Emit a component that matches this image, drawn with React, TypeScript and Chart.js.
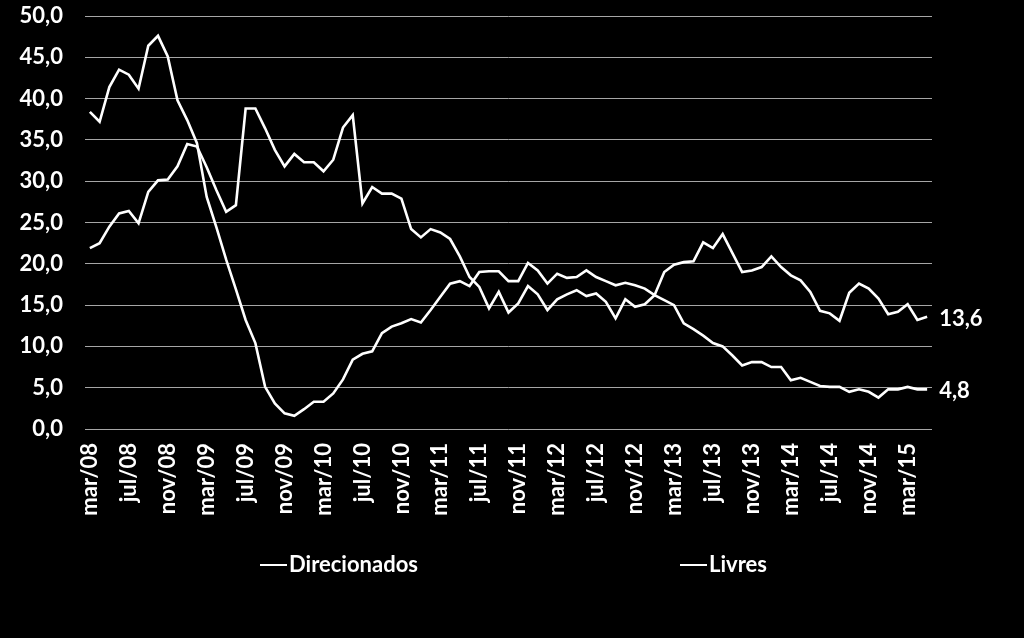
import React, { useEffect, useRef } from "react";
import { Chart, registerables } from "chart.js";

Chart.register(...registerables);

// Monthly categories: mar/08 .. mai/15 (87 months)
const monthNames = ["jan", "fev", "mar", "abr", "mai", "jun", "jul", "ago", "set", "out", "nov", "dez"];
const startYear = 2008;
const startMonth = 2; // mar
const monthCount = 87;
const categories: string[] = Array.from({ length: monthCount }, (_, i) => {
  const m = (startMonth + i) % 12;
  const y = startYear + Math.floor((startMonth + i) / 12);
  return `${monthNames[m]}/${String(y % 100).padStart(2, "0")}`;
});
const tickEvery = 4;

const seriesNames = ["Direcionados", "Livres"];

const direcionados = [
  21.9, 22.5, 24.5, 26.1, 26.4, 24.9, 28.7, 30.1, 30.2, 31.8,
  34.5, 34.2, 31.7, 28.9, 26.3, 27.1, 38.8, 38.8, 36.4, 33.8,
  31.8, 33.3, 32.3, 32.3, 31.2, 32.6, 36.5, 38.0, 27.3, 29.3,
  28.5, 28.5, 27.9, 24.2, 23.2, 24.2, 23.8, 23.0, 20.9, 18.4,
  17.2, 14.6, 16.6, 14.1, 15.2, 17.3, 16.3, 14.4, 15.7, 16.3,
  16.8, 16.1, 16.4, 15.4, 13.4, 15.7, 14.8, 15.1, 16.2, 19.0,
  19.9, 20.2, 20.3, 22.6, 21.9, 23.6, 21.3, 19.0, 19.2, 19.6,
  20.9, 19.6, 18.6, 18.0, 16.6, 14.3, 14.0, 13.1, 16.5, 17.6,
  17.0, 15.8, 13.9, 14.2, 15.1, 13.2, 13.6,
];

const livres = [
  38.4, 37.2, 41.4, 43.5, 42.9, 41.2, 46.4, 47.6, 45.1, 39.8,
  37.4, 34.6, 28.1, 24.4, 20.5, 16.9, 13.2, 10.4, 5.1, 3.1,
  1.9, 1.6, 2.4, 3.3, 3.3, 4.3, 6.0, 8.4, 9.1, 9.4,
  11.6, 12.4, 12.8, 13.3, 12.9, 14.4, 16.0, 17.6, 17.9, 17.3,
  19.0, 19.1, 19.1, 17.9, 17.9, 20.1, 19.2, 17.6, 18.8, 18.3,
  18.4, 19.2, 18.4, 17.9, 17.4, 17.7, 17.4, 17.0, 16.2, 15.6,
  15.0, 12.8, 12.1, 11.3, 10.4, 10.0, 8.9, 7.7, 8.1, 8.1,
  7.5, 7.5, 5.9, 6.2, 5.7, 5.2, 5.1, 5.1, 4.5, 4.8,
  4.5, 3.8, 4.8, 4.8, 5.1, 4.8, 4.8,
];

const yMin = 0;
const yMax = 50;
const yStep = 5;

const FONT_FAMILY = "Lato, 'Open Sans', sans-serif";
const FONT_SIZE = 22;

const fmt = (v: number) => v.toFixed(1).replace(".", ",");

const overlayPlugin = {
  id: "overlay",
  afterDraw(chart: any) {
    const ctx = chart.ctx as CanvasRenderingContext2D;
    ctx.save();
    ctx.font = `bold ${FONT_SIZE}px ${FONT_FAMILY}`;
    ctx.fillStyle = "#ffffff";
    ctx.textBaseline = "middle";
    ctx.textAlign = "left";
    // end-of-line value labels
    chart.data.datasets.forEach((ds: any, di: number) => {
      const meta = chart.getDatasetMeta(di);
      const pts = meta.data;
      const last = pts[pts.length - 1];
      const val = ds.data[ds.data.length - 1];
      ctx.fillText(fmt(val), last.x + 12, last.y + 2);
    });
    // legend
    const cx = chart.width / 2;
    const ly = 565;
    const items = [
      { text: seriesNames[0], x: cx - 252 },
      { text: seriesNames[1], x: cx + 168 },
    ];
    ctx.strokeStyle = "#ffffff";
    ctx.lineWidth = 2;
    items.forEach((it) => {
      ctx.beginPath();
      ctx.moveTo(it.x, ly);
      ctx.lineTo(it.x + 27, ly);
      ctx.stroke();
      ctx.fillText(it.text, it.x + 29, ly);
    });
    ctx.restore();
  },
};

export default function App() {
  const canvasRef = useRef<HTMLCanvasElement | null>(null);

  useEffect(() => {
    document.body.style.margin = "0";
    document.body.style.background = "#000";
    const canvas = canvasRef.current;
    if (!canvas) return;
    const tickFont = { family: FONT_FAMILY, size: FONT_SIZE, weight: "bold" as const };
    const chart = new Chart(canvas, {
      type: "line",
      data: {
        labels: categories,
        datasets: [
          {
            label: seriesNames[0],
            data: direcionados,
            borderColor: "#ffffff",
            backgroundColor: "#ffffff",
            borderWidth: 2.6,
            pointRadius: 0,
            tension: 0,
          },
          {
            label: seriesNames[1],
            data: livres,
            borderColor: "#ffffff",
            backgroundColor: "#ffffff",
            borderWidth: 2.6,
            pointRadius: 0,
            tension: 0,
          },
        ],
      },
      options: {
        animation: false,
        responsive: false,
        maintainAspectRatio: false,
        layout: { padding: { top: 16, right: 92, bottom: 109, left: 0 } },
        plugins: {
          legend: { display: false },
          tooltip: { enabled: false },
        },
        scales: {
          x: {
            offset: true,
            grid: { display: false, drawTicks: false },
            border: { display: false },
            ticks: {
              autoSkip: false,
              maxRotation: 90,
              minRotation: 90,
              padding: 14,
              color: "#ffffff",
              font: tickFont,
              callback: (_v: any, i: number) => (i % tickEvery === 0 ? categories[i] : ""),
            },
            afterFit: (s: any) => {
              s.height = 100;
              s.paddingLeft = 0;
              s.paddingRight = 0;
            },
          },
          y: {
            min: yMin,
            max: yMax,
            ticks: {
              stepSize: yStep,
              padding: 22,
              color: "#ffffff",
              font: tickFont,
              callback: (v: any) => fmt(Number(v)),
            },
            grid: { color: "#a6a6a6", lineWidth: 1, drawTicks: false },
            border: { display: false },
            afterFit: (s: any) => {
              s.width = 85;
              s.paddingTop = 12;
              s.paddingBottom = 12;
            },
          },
        },
      },
      plugins: [overlayPlugin],
    });
    return () => chart.destroy();
  }, []);

  return (
    <div style={{ position: "fixed", left: 0, top: 0, width: 1024, height: 638, background: "#000" }}>
      <canvas ref={canvasRef} width={1024} height={638} style={{ display: "block" }} />
    </div>
  );
}
